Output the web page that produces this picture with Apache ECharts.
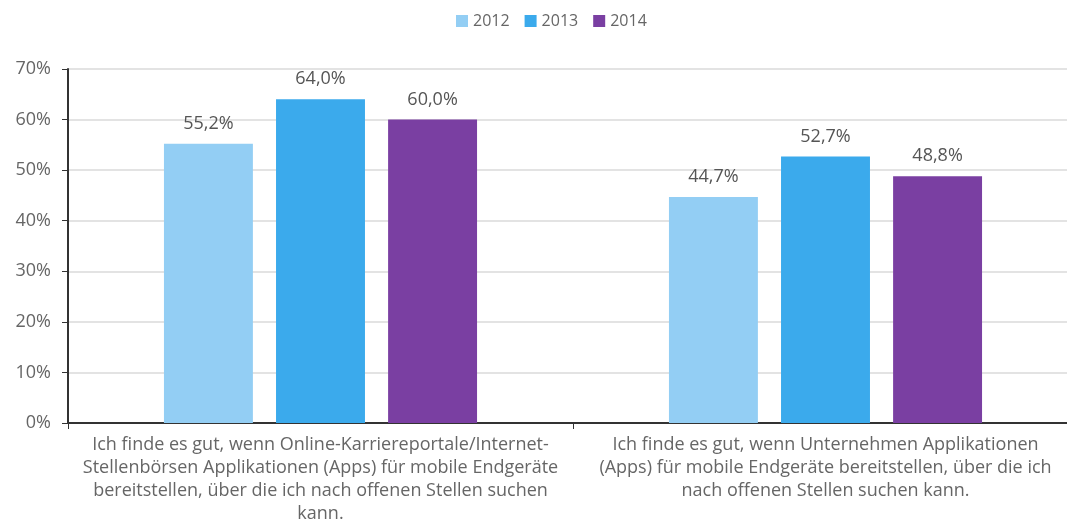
<!DOCTYPE html>
<html>
<head>
<meta charset="utf-8">
<script src="https://cdn.jsdelivr.net/npm/echarts@6/dist/echarts.min.js"></script>
<style>html,body{margin:0;padding:0;background:#fff;}#c{width:1067px;height:520px;}</style>
</head>
<body>
<div id="c"></div>
<script>
const categories = [
  "Ich finde es gut, wenn Online-Karriereportale/Internet-\nStellenbörsen Applikationen (Apps) für mobile Endgeräte\nbereitstellen, über die ich nach offenen Stellen suchen\nkann.",
  "Ich finde es gut, wenn Unternehmen Applikationen\n(Apps) für mobile Endgeräte bereitstellen, über die ich\nnach offenen Stellen suchen kann."
];
const seriesNames = ["2012", "2013", "2014"];
const values2012 = [55.2, 44.7];
const values2013 = [64.0, 52.7];
const values2014 = [60.0, 48.8];
const colors = ["#93CEF4", "#3BAAEC", "#7A3FA2"];
const FONT = "Open Sans";

const chart = echarts.init(document.getElementById('c'), null, {renderer: 'canvas'});
const dataSets = [values2012, values2013, values2014];
chart.setOption({
  animation: false,
  textStyle: {fontFamily: FONT},
  legend: {
    top: 13, left: 456, padding: 0,
    itemWidth: 12, itemHeight: 12, itemGap: 15,
    icon: 'rect',
    textStyle: {fontFamily: FONT, fontSize: 16, color: '#666'},
    data: seriesNames
  },
  grid: {left: 68, top: 69, right: -11, bottom: 97, containLabel: false, outerBoundsMode: 'none'},
  xAxis: {
    type: 'category',
    data: categories,
    axisLine: {lineStyle: {color: '#333', width: 2}},
    axisTick: {show: true, length: 6, lineStyle: {color: '#333'}},
    axisLabel: {
      interval: 0, fontFamily: FONT, fontSize: 18, color: '#666',
      lineHeight: 23, margin: 10, align: 'center'
    }
  },
  yAxis: {
    type: 'value', min: 0, max: 70, interval: 10,
    axisLine: {show: true, lineStyle: {color: '#333', width: 2}},
    axisTick: {show: true, length: 6, lineStyle: {color: '#333'}},
    splitLine: {lineStyle: {color: '#e3e3e3', width: 2}},
    axisLabel: {formatter: '{value}%', fontFamily: FONT, fontSize: 18, color: '#666', margin: 17}
  },
  series: seriesNames.map((n, i) => ({
    name: n,
    type: 'bar',
    data: dataSets[i],
    barGap: '26%',
    barCategoryGap: '38%',
    itemStyle: {color: colors[i]},
    label: {
      show: true, position: 'top', distance: 11,
      fontFamily: FONT, fontSize: 18, color: '#555',
      formatter: p => p.value.toFixed(1).replace('.', ',') + '%'
    }
  }))
});
</script>
</body>
</html>
